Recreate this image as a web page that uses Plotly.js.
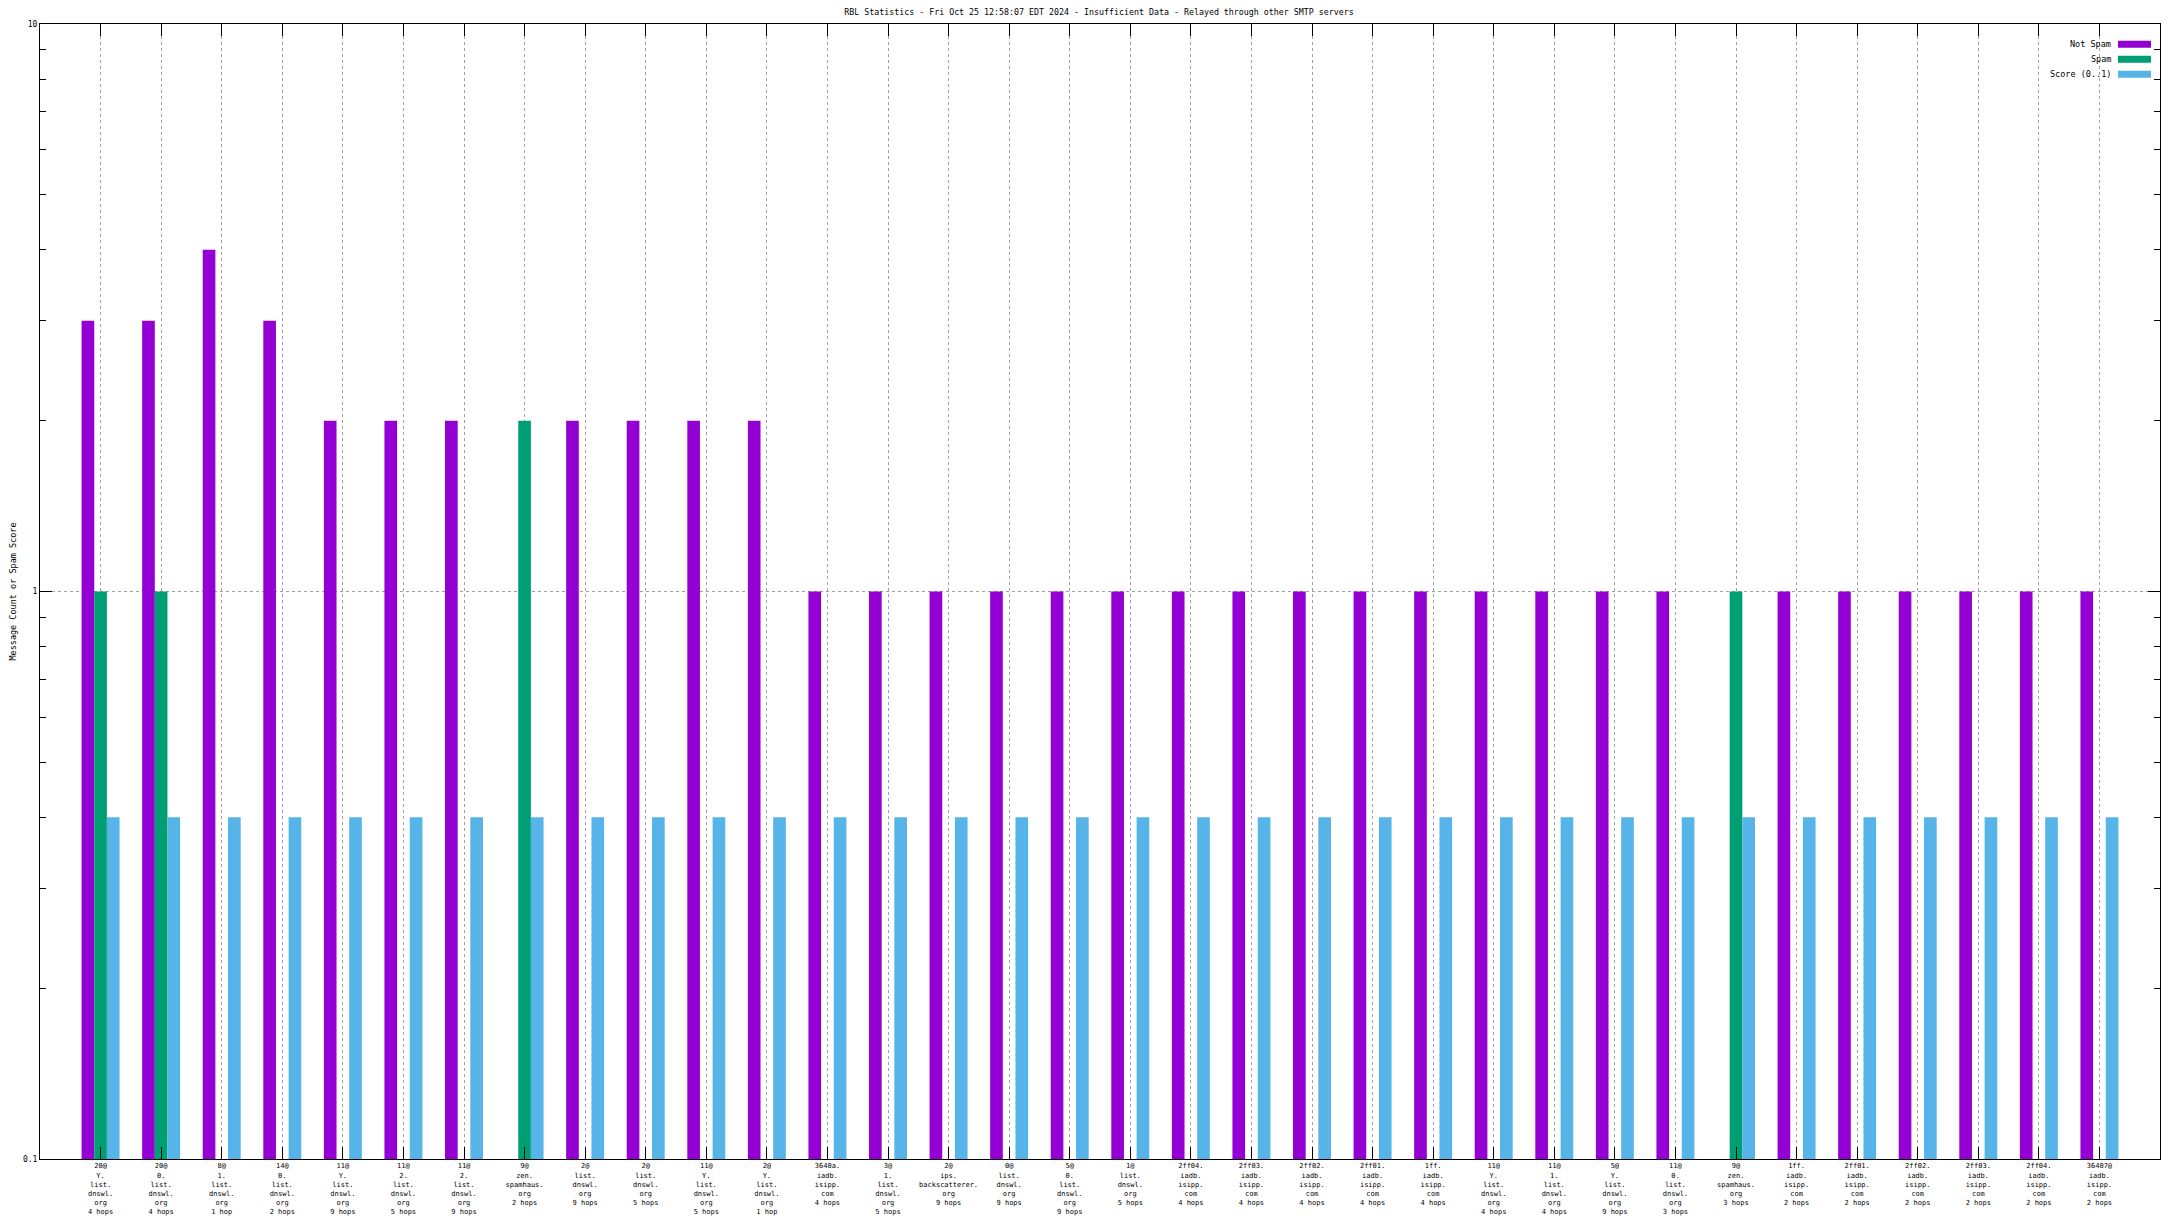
<!DOCTYPE html>
<html>
<head>
<meta charset="utf-8">
<script src="https://cdn.plot.ly/plotly-3.0.1.min.js"></script>
<style>
  html, body { margin: 0; padding: 0; background: #ffffff; }
  #chart { width: 2176px; height: 1224px; }
</style>
</head>
<body>
<div id="chart"></div>
<script>
// ---- data ----
const chartTitle = "RBL Statistics - Fri Oct 25 12:58:07 EDT 2024 - Insufficient Data - Relayed through other SMTP servers";
const yTitle = "Message Count or Spam Score";
const seriesNames = ["Not Spam", "Spam", "Score (0..1)"];
const seriesColors = ["#9400d3", "#009e73", "#56b4e9"];

const categories = [
  "20@|Y.|list.|dnswl.|org|4 hops",
  "20@|0.|list.|dnswl.|org|4 hops",
  "8@|1.|list.|dnswl.|org|1 hop",
  "14@|0.|list.|dnswl.|org|2 hops",
  "11@|Y.|list.|dnswl.|org|9 hops",
  "11@|2.|list.|dnswl.|org|5 hops",
  "11@|2.|list.|dnswl.|org|9 hops",
  "9@|zen.|spamhaus.|org|2 hops",
  "2@|list.|dnswl.|org|9 hops",
  "2@|list.|dnswl.|org|5 hops",
  "11@|Y.|list.|dnswl.|org|5 hops",
  "2@|Y.|list.|dnswl.|org|1 hop",
  "3640a.|iadb.|isipp.|com|4 hops",
  "3@|1.|list.|dnswl.|org|5 hops",
  "2@|ips.|backscatterer.|org|9 hops",
  "0@|list.|dnswl.|org|9 hops",
  "5@|0.|list.|dnswl.|org|9 hops",
  "1@|list.|dnswl.|org|5 hops",
  "2ff04.|iadb.|isipp.|com|4 hops",
  "2ff03.|iadb.|isipp.|com|4 hops",
  "2ff02.|iadb.|isipp.|com|4 hops",
  "2ff01.|iadb.|isipp.|com|4 hops",
  "1ff.|iadb.|isipp.|com|4 hops",
  "11@|Y.|list.|dnswl.|org|4 hops",
  "11@|1.|list.|dnswl.|org|4 hops",
  "5@|Y.|list.|dnswl.|org|9 hops",
  "11@|0.|list.|dnswl.|org|3 hops",
  "9@|zen.|spamhaus.|org|3 hops",
  "1ff.|iadb.|isipp.|com|2 hops",
  "2ff01.|iadb.|isipp.|com|2 hops",
  "2ff02.|iadb.|isipp.|com|2 hops",
  "2ff03.|iadb.|isipp.|com|2 hops",
  "2ff04.|iadb.|isipp.|com|2 hops",
  "36407@|iadb.|isipp.|com|2 hops"
];

const notSpam = [3, 3, 4, 3, 2, 2, 2, null, 2, 2, 2, 2,
                 1, 1, 1, 1, 1, 1, 1, 1, 1, 1, 1, 1, 1, 1, 1,
                 null, 1, 1, 1, 1, 1, 1];
const spam = [1, 1, null, null, null, null, null, 2, null, null, null, null,
              null, null, null, null, null, null, null, null, null, null, null, null, null, null, null,
              1, null, null, null, null, null, null];
const score = [0.4, 0.4, 0.4, 0.4, 0.4, 0.4, 0.4, 0.4, 0.4, 0.4, 0.4, 0.4,
               0.4, 0.4, 0.4, 0.4, 0.4, 0.4, 0.4, 0.4, 0.4, 0.4, 0.4, 0.4, 0.4, 0.4, 0.4,
               0.4, 0.4, 0.4, 0.4, 0.4, 0.4, 0.4];

const yTickVals = [0.1, 1, 10];
const yTickText = ["0.1", "1", "10"];
const yMinorVals = [0.2, 0.3, 0.4, 0.5, 0.6, 0.7, 0.8, 0.9, 2, 3, 4, 5, 6, 7, 8, 9];

// ---- build ----
const xPos = categories.map((c, i) => i + 1);
const tickText = categories.map(c => c.split("|").join("<br>"));
const values = [notSpam, spam, score];

const FONT = "DejaVu Sans Mono";

const traces = values.map((v, k) => ({
  type: "bar",
  name: seriesNames[k],
  x: xPos,
  y: v,
  marker: { color: seriesColors[k], line: { width: 0 } },
  showlegend: false,
  hoverinfo: "skip"
}));

// plot area in pixels (from reference)
const W = 2176, H = 1224;
const L = 40, R = 16, T = 24, B = 65;
const pw = W - L - R, ph = H - T - B;
const px2x = p => (p - L) / pw;
const py2y = p => (H - B - p) / ph;

// gnuplot-style legend (text right-aligned, swatch on the right)
const legendRowsY = [44.3, 59.3, 74.3];
const shapes = [];
const annotations = [];
seriesNames.forEach((n, k) => {
  shapes.push({
    type: "rect", xref: "paper", yref: "paper",
    x0: px2x(2118), x1: px2x(2151),
    y0: py2y(legendRowsY[k] + 3.5), y1: py2y(legendRowsY[k] - 3.5),
    fillcolor: seriesColors[k], line: { width: 0 }
  });
  annotations.push({
    xref: "paper", yref: "paper",
    x: px2x(2113), y: py2y(legendRowsY[k]),
    xanchor: "right", yanchor: "middle",
    text: n, showarrow: false,
    font: { family: FONT, size: 8.5, color: "#000" }
  });
});

const layout = {
  width: W, height: H,
  paper_bgcolor: "#ffffff",
  plot_bgcolor: "#ffffff",
  margin: { l: L, r: R, t: T, b: B, pad: 0 },
  font: { family: FONT, size: 8, color: "#000" },
  title: {
    text: chartTitle,
    x: 1099 / W, xanchor: "center", xref: "container",
    y: 1 - 12 / H, yanchor: "middle", yref: "container",
    font: { family: FONT, size: 8.3, color: "#000" }
  },
  barmode: "group",
  bargap: 0.373,
  bargroupgap: 0,
  showlegend: false,
  xaxis: {
    range: [0, 35],
    tickmode: "array",
    tickvals: xPos,
    ticktext: tickText,
    ticks: "inside",
    ticklen: 12,
    tickcolor: "#000",
    tickwidth: 1,
    showline: true, linecolor: "#000", linewidth: 1,
    mirror: "ticks",
    showgrid: true, gridcolor: "#a0a0a0", gridwidth: 1, griddash: "3px,3px",
    zeroline: false,
    tickangle: 0,
    tickfont: { family: FONT, size: 7, color: "#000" },
    automargin: false,
    fixedrange: true
  },
  yaxis: {
    type: "log",
    range: [-1, 1],
    tickmode: "array",
    tickvals: yTickVals,
    ticktext: yTickText,
    ticks: "inside",
    ticklen: 12,
    tickcolor: "#000",
    tickwidth: 1,
    minor: {
      tickmode: "array",
      tickvals: yMinorVals,
      ticks: "inside",
      ticklen: 6,
      tickcolor: "#000",
      tickwidth: 1,
      showgrid: false
    },
    showline: true, linecolor: "#000", linewidth: 1,
    mirror: "ticks",
    showgrid: true, gridcolor: "#a0a0a0", gridwidth: 1, griddash: "3px,3px",
    zeroline: false,
    tickfont: { family: FONT, size: 8, color: "#000" },
    title: { text: yTitle, font: { family: FONT, size: 8.5, color: "#000" }, standoff: 4 },
    automargin: false,
    fixedrange: true
  },
  shapes: shapes,
  annotations: annotations
};

Plotly.newPlot("chart", traces, layout, { staticPlot: true, displayModeBar: false });
</script>
</body>
</html>
